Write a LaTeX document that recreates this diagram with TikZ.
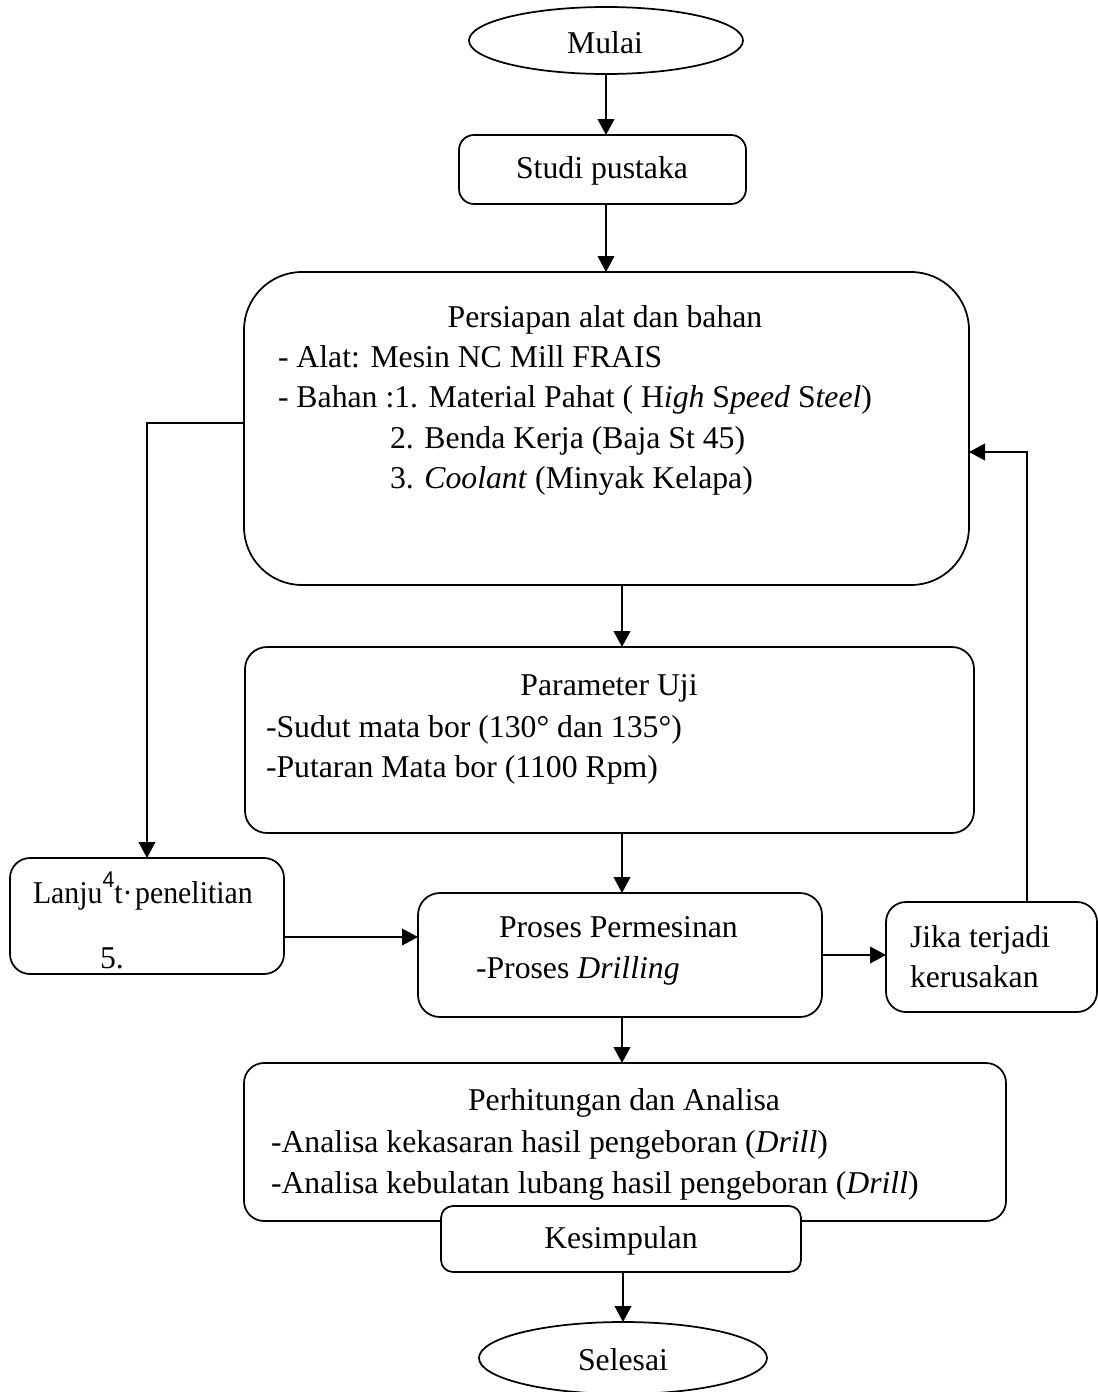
\documentclass[tikz,border=0pt]{standalone}
\usepackage{fontspec}
\setmainfont{Liberation Serif}
\newfontfamily\supsans{Liberation Sans}
\usetikzlibrary{arrows.meta,shapes.geometric}
\begin{document}
\begin{tikzpicture}[x=0.75pt,y=-0.75pt,
  bx/.style={draw,line width=1.3pt,inner sep=0pt,outer sep=0pt},
  txt/.style={inner sep=0pt,outer sep=0pt,font=\fontsize{23.8pt}{30pt}\selectfont},
  arr/.style={line width=1.3pt,-{Triangle[length=12pt,width=12.5pt]}}]
\useasboundingbox (0,0) rectangle (1098,1392);
% boxes
\node[bx,ellipse,minimum width=205.5pt,minimum height=50.25pt] (mulai) at (606,40.5) {};
\node[bx,rounded corners=11.25pt,minimum width=215.25pt,minimum height=51.75pt] (studi) at (602.5,169.5) {};
\node[bx,rounded corners=43.5pt,minimum width=543.75pt,minimum height=234.75pt] (persiapan) at (606.5,428.5) {};
\node[bx,rounded corners=16.5pt,minimum width=546.75pt,minimum height=139.5pt] (parameter) at (609.5,740) {};
\node[bx,rounded corners=16.5pt,minimum width=303pt,minimum height=93pt] (proses) at (620,955) {};
\node[bx,rounded corners=15pt,minimum width=158.25pt,minimum height=82.5pt] (jika) at (991.5,957) {};
\node[bx,rounded corners=15pt,minimum width=205.5pt,minimum height=87pt] (lanjut) at (147,916) {};
\node[bx,rounded corners=15pt,minimum width=571.5pt,minimum height=118.5pt] (hitung) at (625,1142) {};
\node[bx,fill=white,rounded corners=9pt,minimum width=270pt,minimum height=49.5pt] (simpul) at (621,1239) {};
\node[bx,ellipse,minimum width=216pt,minimum height=54pt] (selesai) at (623,1358) {};
% helper coordinates
\coordinate (axis) at (622,0);
\coordinate (kr) at (1027,452);
\coordinate (kl) at (147,423);
\coordinate (ly) at (0,937);
% connectors
\draw[arr] (mulai.south) -- (mulai.south |- studi.north);
\draw[arr] (studi.south -| mulai.south) -- (persiapan.north -| mulai.south);
\draw[arr] (persiapan.south -| axis) -- (parameter.north -| axis);
\draw[arr] (parameter.south -| axis) -- (proses.north -| axis);
\draw[arr] (proses.south -| axis) -- (hitung.north -| axis);
\draw[arr] (simpul.south -| selesai.north) -- (selesai.north);
\draw[arr] (proses.east) -- (proses.east -| jika.west);
\draw[arr] (jika.north -| kr) -- (kr) -- (persiapan.east |- kr);
\draw[arr] (persiapan.west |- kl) -- (kl) -- (lanjut.north);
\draw[arr] (lanjut.east |- ly) -- (proses.west |- ly);
% texts
\node[txt,anchor=base] (tmulai) at (605,53) {Mulai};
\node[txt,anchor=base] (tstudi) at (602,178) {Studi pustaka};
\node[txt,anchor=base] (tp0) at (605,327) {Persiapan alat dan bahan};
\node[txt,anchor=base west] (tp1) at (278,367) {- Alat: Mesin NC Mill FRAIS};
\node[txt,anchor=base west] (tp2) at (278,407) {- Bahan :1. Material Pahat ( H\textit{igh} S\textit{peed} S\textit{teel})};
\node[txt,anchor=base west] (tp3) at (390,448) {2. Benda Kerja (Baja St 45)};
\node[txt,anchor=base west] (tp4) at (390,488) {3. \textit{Coolant} (Minyak Kelapa)};
\node[txt,anchor=base] (tu0) at (609,695) {Parameter Uji};
\node[txt,anchor=base west] (tu1) at (266,737) {-Sudut mata bor (130° dan 135°)};
\node[txt,anchor=base west] (tu2) at (266,777) {-Putaran Mata bor (1100 Rpm)};
\node[txt,anchor=base west] (tm0) at (499,937) {Proses Permesinan};
\node[txt,anchor=base west] (tm1) at (476,978) {-Proses \textit{Drilling}};
\node[txt,anchor=base west] (tj0) at (910,947) {Jika terjadi};
\node[txt,anchor=base west] (tj1) at (910,987) {kerusakan};
\node[txt,anchor=base west] (tl0) at (33,903) {\scalebox{0.94}[1]{Lanju\raisebox{12pt}{\supsans\fontsize{17pt}{17pt}\selectfont 4}t·\hspace{2pt}penelitian}};
\node[txt,anchor=base west] (tl1) at (100,968) {5.};
\node[txt,anchor=base] (th0) at (624,1110) {Perhitungan dan Analisa};
\node[txt,anchor=base west] (th1) at (271,1152) {-Analisa kekasaran hasil pengeboran (\textit{Drill})};
\node[txt,anchor=base west] (th2) at (271,1193) {-Analisa kebulatan lubang hasil pengeboran (\textit{Drill})};
\node[txt,anchor=base] (tk) at (621,1248) {Kesimpulan};
\node[txt,anchor=base] (ts) at (623,1370) {Selesai};
\end{tikzpicture}
\end{document}
